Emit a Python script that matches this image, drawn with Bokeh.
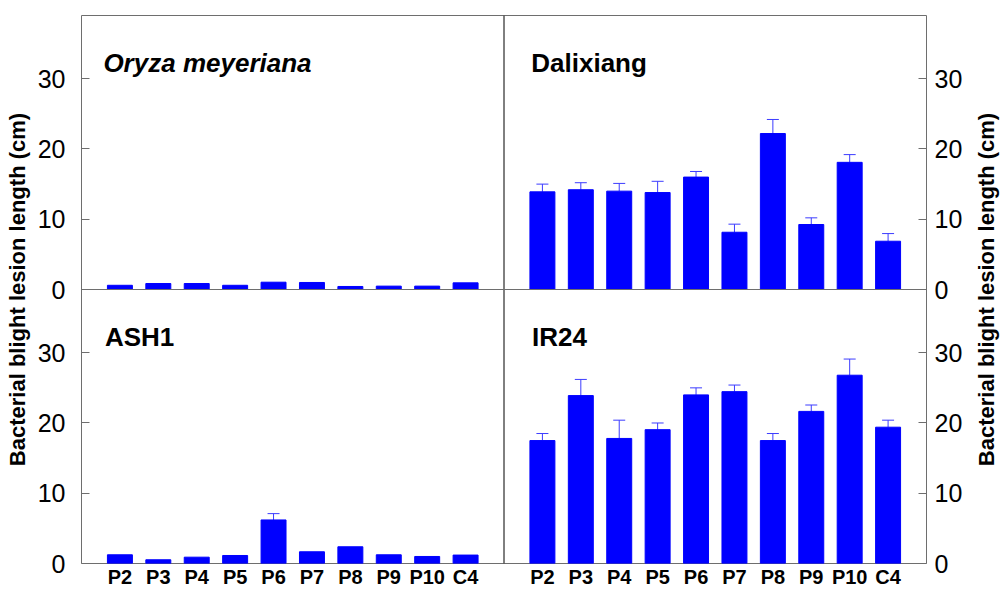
from bokeh.plotting import figure
from bokeh.layouts import row
from bokeh.models import (Range1d, LinearAxis, FixedTicker, Span, Label, Whisker,
                          ColumnDataSource, TeeHead)
from bokeh.embed import file_html
from bokeh.resources import INLINE

# ---------------- data ----------------
categories = ["P2", "P3", "P4", "P5", "P6", "P7", "P8", "P9", "P10", "C4"]

oryza_mean = [0.6, 0.85, 0.85, 0.6, 1.04, 1.0, 0.43, 0.48, 0.48, 0.95]
oryza_upper = [0.6, 0.85, 0.85, 0.6, 1.04, 1.0, 0.43, 0.48, 0.48, 0.95]

dalixiang_mean = [13.9, 14.2, 14.0, 13.8, 16.0, 8.15, 22.2, 9.25, 18.1, 6.87]
dalixiang_upper = [15.0, 15.2, 15.1, 15.4, 16.8, 9.3, 24.2, 10.2, 19.2, 7.96]

ash1_mean = [1.24, 0.53, 0.9, 1.14, 6.2, 1.67, 2.38, 1.24, 1.0, 1.2]
ash1_upper = [1.24, 0.53, 0.9, 1.14, 7.1, 1.67, 2.38, 1.24, 1.0, 1.2]

ir24_mean = [17.5, 23.9, 17.8, 19.05, 24.0, 24.46, 17.5, 21.65, 26.8, 19.4]
ir24_upper = [18.5, 26.2, 20.4, 20.0, 25.0, 25.4, 18.5, 22.56, 29.1, 20.4]

y_ticks = [0, 10, 20, 30]
panel_names = ["Oryza meyeriana", "Dalixiang", "ASH1", "IR24"]
y_label = "Bacterial blight lesion length (cm)"

# ---------------- layout ----------------
FONT = "Liberation Sans"
BLUE = "#0000ff"
ERR = "#3c3cff"
FRAME = "#6e6e6e"
N = len(categories)
XSPAN = N + 1          # category slots per panel (half a slot padding each side)
YSPAN = 39             # value range shown in each panel

p = figure(width=965, height=590,
           x_range=Range1d(0, 2 * XSPAN), y_range=Range1d(0, 2 * YSPAN),
           x_axis_type=None, y_axis_type=None,
           output_backend="svg", toolbar_location=None,
           min_border_left=81, min_border_right=37,
           min_border_top=15, min_border_bottom=27,
           background_fill_color="white", border_fill_color="white",
           outline_line_color=FRAME, outline_line_width=1)
p.extra_x_ranges = {"right": Range1d(-XSPAN, XSPAN)}
p.extra_y_ranges = {"top": Range1d(-YSPAN, YSPAN)}

xs = list(range(1, N + 1))

panels = [
    (oryza_mean, oryza_upper, "default", "top", panel_names[0], 0.57, "bold italic"),
    (dalixiang_mean, dalixiang_upper, "right", "top", panel_names[1], 0.71, "bold"),
    (ash1_mean, ash1_upper, "default", "default", panel_names[2], 0.61, "bold"),
    (ir24_mean, ir24_upper, "right", "default", panel_names[3], 0.73, "bold"),
]

for mean, upper, xr, yr, name, tx, style in panels:
    p.vbar(x=xs, top=mean, bottom=0, width=0.65,
           x_range_name=xr, y_range_name=yr,
           fill_color=BLUE, line_color=BLUE, line_width=1)
    ex = [x for x, m, u in zip(xs, mean, upper) if u > m]
    em = [m for m, u in zip(mean, upper) if u > m]
    eu = [u for m, u in zip(mean, upper) if u > m]
    if ex:
        src = ColumnDataSource(dict(x=ex, lower=em, upper=eu))
        p.add_layout(Whisker(source=src, base="x", lower="lower", upper="upper",
                             dimension="height", x_range_name=xr, y_range_name=yr,
                             line_color=ERR, line_width=1, lower_head=None,
                             upper_head=TeeHead(size=12, line_color=ERR, line_width=1)))
    p.add_layout(Label(x=tx, y=32.2, text=name, x_range_name=xr, y_range_name=yr,
                       text_font=FONT, text_font_size="26px", text_font_style=style,
                       text_color="black", text_baseline="alphabetic"))

# dividers
p.add_layout(Span(location=XSPAN, dimension="height", line_color="black", line_width=1))
p.add_layout(Span(location=YSPAN, dimension="width", line_color=FRAME, line_width=1))

# y axes
yt = y_ticks + [YSPAN + t for t in y_ticks]
yover = {YSPAN + t: str(t) for t in y_ticks}


def make_tick_axis(standoff, label):
    return LinearAxis(ticker=FixedTicker(ticks=yt, minor_ticks=[]),
                      major_label_overrides=yover,
                      axis_label=label,
                      axis_label_text_font=FONT, axis_label_text_font_size="22px",
                      axis_label_text_font_style="bold", axis_label_standoff=5,
                      axis_label_text_color="black",
                      major_label_text_font=FONT, major_label_text_font_size="25px",
                      major_label_text_color="black",
                      major_label_standoff=standoff,
                      major_tick_in=8, major_tick_out=0,
                      major_tick_line_color=FRAME, axis_line_color=None,
                      minor_tick_line_color=None)


p.add_layout(make_tick_axis(16, y_label), "left")
p.add_layout(make_tick_axis(8, None), "right")

# x axis
xt = xs + [XSPAN + x for x in xs]
xover = {}
for x, c in zip(xs, categories):
    xover[x] = c
    xover[XSPAN + x] = c
xax = LinearAxis(ticker=FixedTicker(ticks=xt, minor_ticks=[]),
                 major_label_overrides=xover,
                 major_label_text_font=FONT, major_label_text_font_size="20px",
                 major_label_text_font_style="bold", major_label_text_color="black",
                 major_label_standoff=2,
                 major_tick_in=0, major_tick_out=0, major_tick_line_color=None,
                 axis_line_color=None, minor_tick_line_color=None)
p.add_layout(xax, "below")

# narrow strip on the right carrying the right-hand axis title (reads bottom-to-top)
side = figure(width=36, height=590, x_range=Range1d(0, 1), y_range=Range1d(0, 1),
              x_axis_type=None, y_axis_type=None,
              output_backend="svg", toolbar_location=None,
              min_border_left=33, min_border_right=0,
              min_border_top=15, min_border_bottom=27,
              background_fill_color="white", border_fill_color="white",
              outline_line_color=None)
side.add_layout(LinearAxis(ticker=FixedTicker(ticks=[], minor_ticks=[]),
                           axis_label=y_label,
                           axis_label_text_font=FONT, axis_label_text_font_size="22px",
                           axis_label_text_font_style="bold", axis_label_standoff=0,
                           axis_label_text_color="black",
                           major_tick_line_color=None, minor_tick_line_color=None,
                           axis_line_color=None), "left")

layout = row(p, side)
open("out.html", "w").write(file_html(layout, INLINE))
